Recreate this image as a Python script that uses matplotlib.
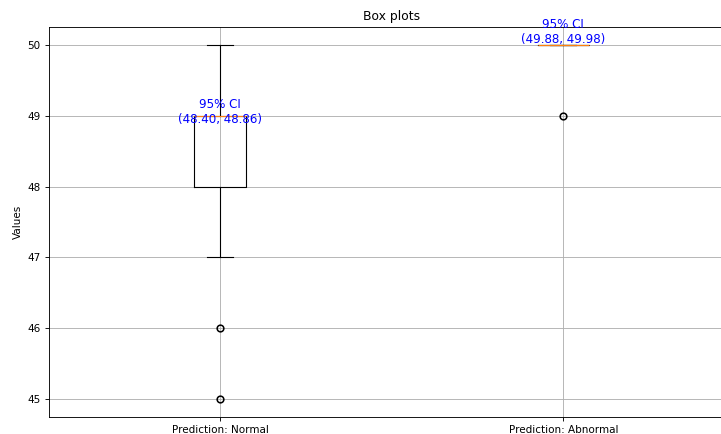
import matplotlib
matplotlib.use("Agg")
import matplotlib.pyplot as plt
import numpy as np

# values per group
normal_vals = [45, 46, 47, 47] + [48] * 5 + [49] * 8 + [50] * 3
abnormal_vals = [49] + [50] * 19
labels = ["Prediction: Normal", "Prediction: Abnormal"]
ci_low = [48.40, 49.88]
ci_high = [48.86, 49.98]

data = [normal_vals, abnormal_vals]

fig = plt.figure(figsize=(721 / 80, 434 / 80), dpi=80)
ax = fig.add_axes([0.0673, 0.0392, 0.952, 0.8986])

bp = ax.boxplot(data, tick_labels=labels,
                flierprops=dict(marker="o", markeredgewidth=1.4))

# CI text sits just on top of the upper CI bound
for i in range(len(data)):
    ax.text(i + 1, ci_high[i], f"95% CI\n({ci_low[i]:.2f}, {ci_high[i]:.2f})",
            ha="center", va="bottom", color="blue", fontsize=10.7)

ax.set_title("Box plots", fontsize=11.2)
ax.set_ylabel("Values", fontsize=9.3)
ax.tick_params(labelsize=9.3)
ax.grid(True)

fig.savefig("out.png", dpi=80)
